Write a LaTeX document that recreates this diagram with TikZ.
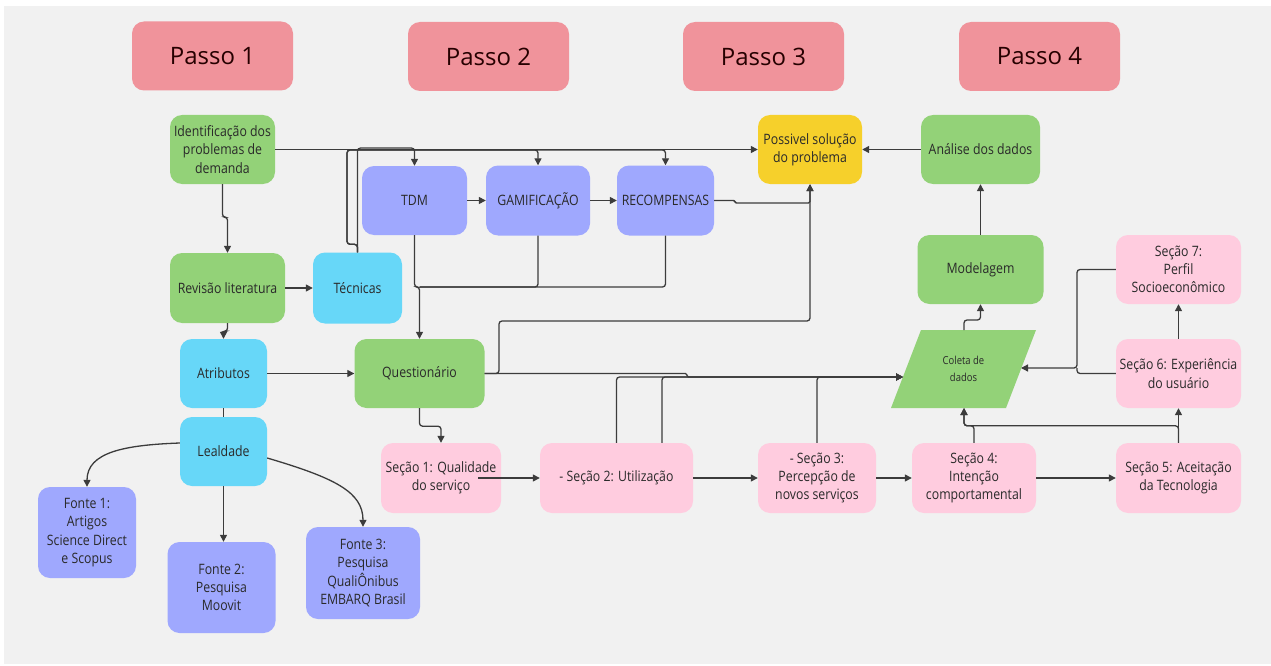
\documentclass[tikz,border=0pt]{standalone}
\usepackage{fontspec}
\setmainfont{Open Sans}
\newfontfamily\bodyf{Open Sans}[FakeStretch=0.86]
\usetikzlibrary{arrows.meta,calc}
\definecolor{bgc}{HTML}{F1F1F1}
\definecolor{passoc}{HTML}{F0939B}
\definecolor{greenc}{HTML}{93D278}
\definecolor{cyanc}{HTML}{67D7F8}
\definecolor{peric}{HTML}{9FA8FE}
\definecolor{yellowc}{HTML}{F6D02B}
\definecolor{pinkc}{HTML}{FFCCDF}
\definecolor{linec}{HTML}{3C3C3C}
\definecolor{txtc}{HTML}{2A2A2A}
\tikzset{
  box/.style={rounded corners=12pt, inner sep=0pt, align=center, text=txtc,
    font=\bodyf\fontsize{14.3}{18.3}\selectfont},
  sz/.style 2 args={minimum width=#1pt, minimum height=#2pt},
  passo/.style={box, fill=passoc, text=black!85!red, font=\fontsize{24}{28}\selectfont, sz={161}{69}},
  gbox/.style={box, fill=greenc},
  cbox/.style={box, fill=cyanc},
  pbox/.style={box, fill=peric},
  ybox/.style={box, fill=yellowc},
  kbox/.style={box, fill=pinkc},
  ln/.style={draw=linec, line width=1.3pt, rounded corners=3pt},
  arr/.style={ln, -{Triangle[length=7pt,width=7pt]}},
}
\begin{document}
\begin{tikzpicture}[x=1pt,y=-1pt]
\useasboundingbox[fill=white] (0,0) rectangle (1271,666);
\fill[bgc] (4,6) rectangle (1271,664);

% Passo headers
\node[passo] (p1) at (212.5,56) {Passo 1};
\node[passo] (p2) at (488.5,56.5) {Passo 2};
\node[passo] (p3) at (763.5,56.5) {Passo 3};
\node[passo] (p4) at (1039.5,56.5) {Passo 4};

% Passo 1 column
\node[gbox, sz={105}{69}] (ident) at (222.5,149.5) {Identificação dos\\problemas de\\demanda};
\node[gbox, sz={115}{70}] (rev) at (227.5,288) {Revisão literatura};
\node[cbox, sz={89}{71}] (tec) at (357.5,288) {Técnicas};
\node[cbox, sz={87}{69}] (atr) at (223.5,373.5) {Atributos};
\node[cbox, sz={87}{69}] (leal) at (223.5,451.5) {Lealdade};
\node[pbox, sz={98}{91}] (f1) at (87,532.5) {Fonte 1:\\Artigos\\Science Direct\\e Scopus};
\node[pbox, sz={108}{91}] (f2) at (221.5,587.5) {Fonte 2:\\Pesquisa\\Moovit};
\node[pbox, sz={114}{92}] (f3) at (363,573) {Fonte 3:\\Pesquisa\\QualiÔnibus\\EMBARQ Brasil};

% Passo 2 column
\node[pbox, sz={105}{69}] (tdm) at (414.5,200.5) {TDM};
\node[pbox, sz={104}{70}] (gami) at (538,200.5) {GAMIFICAÇÃO};
\node[pbox, sz={97}{70}] (recomp) at (665.5,200.5) {RECOMPENSAS};
\node[gbox, sz={130}{69}] (quest) at (419.5,373.5) {Questionário};

% Passo 3/4
\node[ybox, sz={104}{69}] (sol) at (810,149.5) {Possivel solução\\do problema};
\node[gbox, sz={119}{69}] (anal) at (980.5,149.5) {Análise dos dados};
\node[gbox, sz={126}{69}] (model) at (980.5,269.5) {Modelagem};

% Coleta de dados (parallelogram)
\fill[greenc] (921,330) -- (1036,330) -- (1006,408) -- (891,408) -- cycle;
\node[align=center, inner sep=0pt, text=txtc, font=\bodyf\fontsize{11}{16.5}\selectfont] (coleta) at (963.5,369) {Coleta de\\dados};
\coordinate (colW) at (903,377);
\coordinate (colE) at (1021,368);
\coordinate (colN) at (964,330);
\coordinate (colS) at (964,408);

% Secoes
\node[kbox, sz={120}{70}] (s1) at (441,478) {Seção 1: Qualidade\\do serviço};
\node[kbox, sz={153}{70}] (s2) at (616.5,478) {- Seção 2: Utilização};
\node[kbox, sz={118}{70}] (s3) at (817,478) {- Seção 3:\\Percepção de\\novos serviços};
\node[kbox, sz={124}{70}] (s4) at (974,478) {Seção 4:\\Intenção\\comportamental};
\node[kbox, sz={125}{70}] (s5) at (1178.5,478) {Seção 5: Aceitação\\da Tecnologia};
\node[kbox, sz={125}{69}] (s6) at (1178.5,373.5) {Seção 6: Experiência\\do usuário};
\node[kbox, sz={125}{69}] (s7) at (1178.5,269.5) {Seção 7:\\Perfil\\Socioeconômico};

% Connectors
\draw[arr] (ident.east) -- (sol.west);
\draw[arr] (tec.north) |- (414.5,148) -- (tdm.north);
\draw[arr] (tec.north) -- ++(0,-8) -| (347,150) -| (gami.north);
\draw[arr] (tec.north) -- ++(0,-8) -| (347,150) -| (recomp.north);
\draw[arr] (tdm.east) -- (gami.west);
\draw[arr] (gami.east) -- (recomp.west);
\draw[arr, rounded corners=1.5pt] (recomp.east) -- (735,200.5) -- (735,203) -| (sol.south);
\draw[arr] (quest.east) -- (499,373.5) -- (499,321) -| (sol.south);
\draw[arr] (tdm.south) -- (414.5,287) -| (quest.north);
\draw[ln] (gami.south) |- (419.5,287);
\draw[ln] (recomp.south) |- (419.5,287);

\draw[arr] (ident.south) -- ++(0,33) -| (rev.north);
\draw[arr] (rev.east) -- (tec.west);
\draw[arr] (rev.south) -- ++(0,8) -| (atr.north);
\draw[arr] (atr.east) -- (quest.west);
\draw[ln] (atr.south) -- (leal.north);
\draw[arr] ($(leal.west)+(0,-8.5)$) .. controls (125,445) and (87,452) .. (f1.north);
\draw[arr] (leal.south) -- (leal.south |- f2.north);
\draw[arr] ($(leal.east)+(0,6.5)$) .. controls (335,478) and (363,492) .. (f3.north);

\draw[arr] (quest.south) -- ++(0,18) -| (s1.north);
\draw[arr, rounded corners=1.5pt] (quest.east) -- (687,373.5) -- (687,377) -- (colW);
\draw[arr] (s2.north) |- (colW);
\draw[arr] ($(s2.north)+(45.5,0)$) |- (colW);
\draw[arr] (s3.north) |- (colW);

\draw[arr] ($(s1.east)+(-23,0)$) -- (s2.west);
\draw[arr] (s2.east) -- (s3.west);
\draw[arr] (s3.east) -- (s4.west);
\draw[arr] (s4.east) -- (s5.west);

\draw[arr] (s5.north) -- ++(0,-17) -| (colS);
\draw[arr] (s4.north) -- ++(0,-17) -| (colS);
\draw[arr] (s5.north) -- (s6.south);
\draw[arr] (s6.north) -- (s7.south);
\draw[arr] (s7.west) -- (1077,269.5) -- (1077,368) -- (colE);
\draw[ln] (s6.west) -| (1077,368);

\draw[arr] (colN) -- ++(0,-10) -| (model.south);
\draw[arr] (model.north) -- (anal.south);
\draw[arr] (anal.west) -- (sol.east);
\end{tikzpicture}
\end{document}
